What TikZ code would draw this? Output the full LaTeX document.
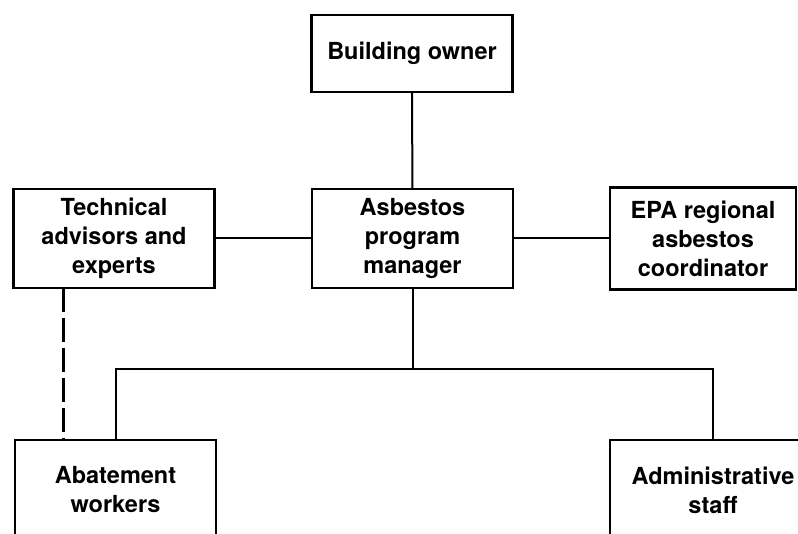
\documentclass[tikz,border=0pt]{standalone}
\usepackage{fontspec}
\setmainfont{TeX Gyre Heros}
\begin{document}
\begin{tikzpicture}[x=1pt,y=-1pt,every node/.style={font=\fontsize{23.5}{29}\selectfont\bfseries, outer sep=0pt, inner sep=0pt},box/.style={draw,line width=2.6pt,align=center,minimum width=201pt,minimum height=99pt},link/.style={line width=2pt}]
\useasboundingbox (0,0) rectangle (798,534);
\node[box,minimum height=77pt] (owner) at (412,53.5) {Building owner};
\node[box] (tech) at (114,238.5) {Technical\\advisors and\\experts};
\node[box] (apm) at (412.5,238.5) {Asbestos\\program\\manager};
\node[box,minimum width=186pt,minimum height=102pt] (epa) at (703,238.5) {EPA regional\\asbestos\\coordinator};
\node[box,minimum height=100pt] (abate) at (115.5,490) {Abatement\\workers};
\node[box,minimum width=206pt,minimum height=100pt] (admin) at (713,490) {Administrative\\staff};
\coordinate (bus) at (412.5,369);
\draw[link] (owner) -- (apm);
\draw[link] (tech) -- (apm);
\draw[link] (apm) -- (epa);
\draw[link] (apm) -- (bus);
\draw[link] (abate.north) |- (bus) -| (admin.north);
\draw[link,line width=3pt,dash pattern=on 24pt off 6pt] ([xshift=-51pt]tech.south) -- ([xshift=-51pt]tech.south |- abate.north);
\end{tikzpicture}
\end{document}
